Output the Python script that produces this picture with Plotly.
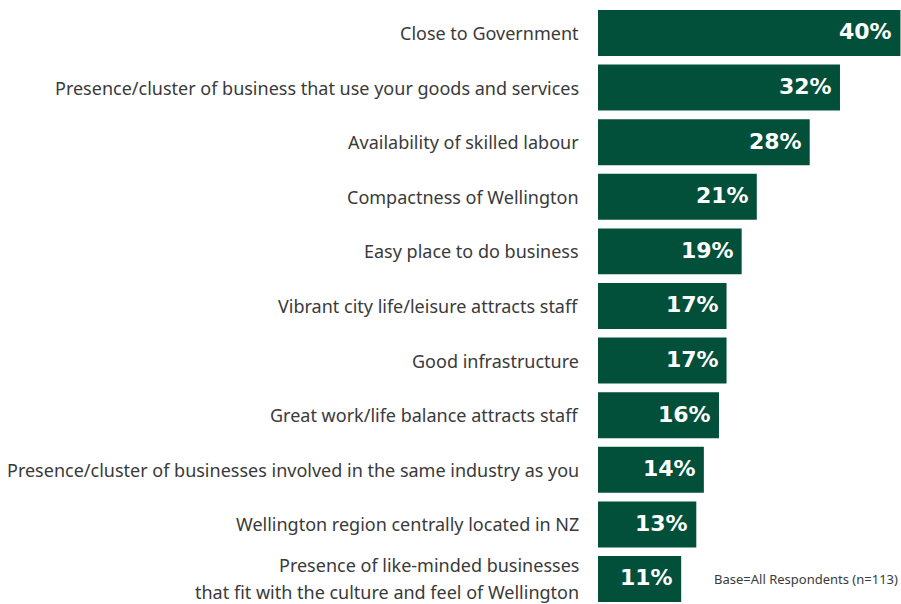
import plotly.graph_objects as go

# Survey results: reasons for locating in Wellington
categories = [
    "Close to Government",
    "Presence/cluster of business that use your goods and services",
    "Availability of skilled labour",
    "Compactness of Wellington",
    "Easy place to do business",
    "Vibrant city life/leisure attracts staff",
    "Good infrastructure",
    "Great work/life balance attracts staff",
    "Presence/cluster of businesses involved in the same industry as you",
    "Wellington region centrally located in NZ",
    "Presence of like-minded businesses<br>that fit with the culture and feel of Wellington",
]
values = [40, 32, 28, 21, 19, 17, 17, 16, 14, 13, 11]
value_labels = [f"{v}%" for v in values]
base_note = "Base=All Respondents (n=113)"

GREEN = "#02503a"
TEXT = "#3a3a3a"
LABEL_FONT = "Noto Sans"

idx = list(range(len(categories)))

fig = go.Figure(
    go.Bar(
        x=values,
        y=idx,
        orientation="h",
        marker=dict(color=GREEN, line=dict(width=0)),
        hoverinfo="skip",
    )
)

annotations = []
line_gap = 27
for i, (cat, v, lab) in enumerate(zip(categories, values, value_labels)):
    lines = cat.split("<br>")
    n = len(lines)
    for k, line in enumerate(lines):
        annotations.append(dict(
            x=0, y=i, xref="x", yref="y",
            text=line, showarrow=False,
            xanchor="right", yanchor="middle",
            xshift=-17, yshift=(n - 1) / 2 * line_gap - k * line_gap,
            font=dict(family=LABEL_FONT, size=18, color=TEXT),
        ))
    annotations.append(dict(
        x=v, y=i, xref="x", yref="y",
        text=lab, showarrow=False,
        xanchor="right", yanchor="middle",
        xshift=-6, yshift=1,
        font=dict(family="DejaVu Sans", size=22, color="white", weight="bold"),
    ))

annotations.append(dict(
    x=1.0, y=idx[-1], xref="paper", yref="y",
    text=base_note, showarrow=False,
    xanchor="right", yanchor="middle", xshift=-1, yshift=0,
    font=dict(family=LABEL_FONT, size=13, color=TEXT),
))

fig.update_layout(
    width=901, height=604,
    margin=dict(l=598, r=0, t=0, b=0),
    paper_bgcolor="white", plot_bgcolor="white",
    bargap=0.158,
    showlegend=False,
    annotations=annotations,
    xaxis=dict(range=[0, 40.07], visible=False, fixedrange=True),
    yaxis=dict(range=[10.458, -0.604], visible=False, fixedrange=True),
)

fig.write_html("out.html", config={"displayModeBar": False})
